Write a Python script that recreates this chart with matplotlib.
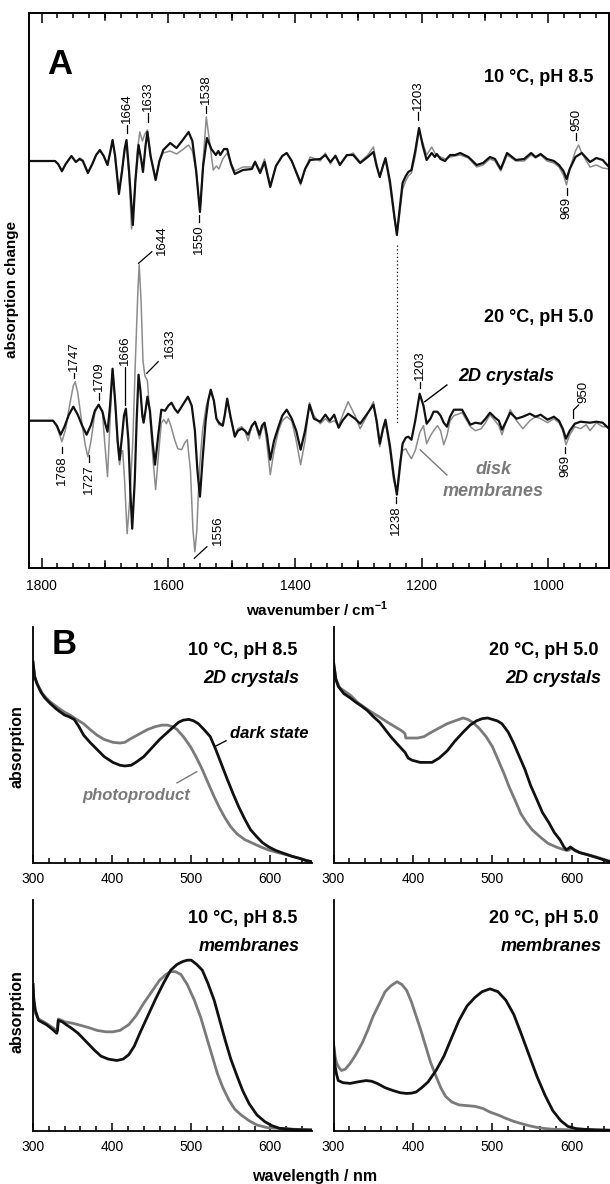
import matplotlib
matplotlib.use("Agg")
import matplotlib.pyplot as plt
from matplotlib.ticker import MultipleLocator

plt.rcParams["font.family"] = ["Liberation Sans", "DejaVu Sans"]
plt.rcParams["mathtext.fontset"] = "custom"
plt.rcParams["mathtext.bf"] = "Liberation Sans:bold"

# ---------------- panel A: FTIR difference spectra ----------------
# upper pair: 10 °C, pH 8.5 ; lower pair: 20 °C, pH 5.0  (arbitrary units)
# fmt: off
up_xtal_wn = [1820, 1790, 1779, 1774, 1768, 1762, 1753, 1746, 1740, 1735, 1727, 1720, 1714, 1708, 1702, 1696, 1692, 1688, 1684, 1678,
              1673, 1669, 1666, 1662, 1656, 1652, 1647, 1643, 1640, 1636, 1633, 1628, 1620, 1614, 1608, 1597, 1587, 1576, 1568, 1562,
              1556, 1550, 1545, 1539, 1532, 1525, 1521, 1518, 1512, 1507, 1501, 1495, 1482, 1468, 1463, 1455, 1448, 1439, 1430, 1420,
              1413, 1405, 1391, 1384, 1376, 1360, 1352, 1344, 1336, 1329, 1318, 1308, 1297, 1285, 1276, 1271, 1266, 1261, 1257, 1250,
              1243, 1239, 1235, 1230, 1225, 1221, 1216, 1210, 1204, 1198, 1192, 1184, 1179, 1176, 1170, 1163, 1155, 1147, 1139, 1126,
              1113, 1103, 1092, 1084, 1075, 1065, 1051, 1038, 1027, 1020, 1012, 1002, 991, 983, 976, 971, 966, 957, 947, 934, 924, 914, 904]
up_xtal = [0, 0, 0, -3, -10, -3, 5, -1, 2, 0, -12, -3, 6, 11, 5, -4, 8, 21, 5, -33,
           -10, 12, 21, -10, -64, -20, 16, 2, -11, 15, 29, 5, -19, 0, 11, 18, 13, 22, 29, 20,
           -10, -51, -5, 23, 12, 6, 10, 6, 12, 12, -3, -13, -9, -8, -1, -12, -1, -26, -5, 5,
           8, 0, -22, -8, 1, 2, 6, -1, 5, -4, 6, 6, -2, 4, 9, -5, -16, -5, 3, -20,
           -55, -74, -50, -22, -15, -11, -9, 10, 33, 15, 1, 8, 4, 7, 2, 0, 6, 6, 8, 4,
           -4, -2, 4, 2, -8, 8, 1, 2, 8, 4, 7, 2, 0, -4, -10, -18, -8, 4, 8, -1, 3, 1, -6]

up_disk_wn = [1820, 1790, 1779, 1774, 1768, 1762, 1753, 1746, 1740, 1735, 1727, 1720, 1714, 1708, 1702, 1696, 1692, 1688, 1684, 1678,
              1673, 1669, 1666, 1662, 1658, 1653, 1649, 1645, 1641, 1637, 1633, 1628, 1620, 1614, 1608, 1597, 1587, 1576, 1568, 1562,
              1556, 1550, 1545, 1540, 1535, 1529, 1524, 1520, 1514, 1507, 1501, 1495, 1482, 1468, 1463, 1455, 1448, 1439, 1430, 1420,
              1413, 1405, 1391, 1384, 1376, 1360, 1352, 1344, 1336, 1329, 1318, 1308, 1297, 1285, 1276, 1271, 1266, 1261, 1257, 1250,
              1243, 1239, 1235, 1230, 1225, 1221, 1216, 1210, 1204, 1198, 1192, 1184, 1179, 1176, 1170, 1163, 1155, 1147, 1139, 1126,
              1113, 1103, 1092, 1084, 1075, 1065, 1051, 1038, 1027, 1020, 1012, 1002, 991, 983, 976, 971, 966, 957, 952, 947, 934, 924, 914, 904]
up_disk = [0, 0, 0, -3, -11, -3, 5, -1, 3, 1, -11, -3, 6, 10, 5, -4, 8, 20, 5, -30,
           -8, 10, 14, -15, -68, -30, 10, 29, 20, 27, 31, 5, -17, 0, 8, 10, 7, 12, 16, 10,
           -10, -50, 0, 44, 20, -9, -5, -8, 2, 8, -2, -10, -6, -6, 0, -10, 2, -24, -5, 5,
           8, 0, -24, -8, 4, 0, 8, -3, 6, -3, 5, 8, -1, 6, 14, -3, -16, -5, 1, -25,
           -58, -72, -55, -28, -20, -15, -12, 5, 30, 18, 6, 14, 8, 5, 4, 2, 4, 5, 6, 3,
           -6, -4, 2, 0, -10, 6, 0, 0, 6, 3, 6, 0, -2, -6, -14, -24, -8, 10, 16, 8, -6, -4, -7, -8]

lo_xtal_wn = [1820, 1790, 1782, 1776, 1770, 1764, 1757, 1750, 1743, 1736, 1729, 1722, 1716, 1710, 1704, 1700, 1696, 1692, 1688, 1684,
              1680, 1677, 1673, 1670, 1667, 1663, 1660, 1657, 1653, 1650, 1647, 1644, 1641, 1639, 1636, 1633, 1629, 1625, 1621, 1616,
              1611, 1605, 1600, 1595, 1590, 1585, 1577, 1569, 1563, 1558, 1554, 1550, 1546, 1541, 1537, 1533, 1528, 1524, 1520, 1514,
              1511, 1507, 1502, 1495, 1490, 1484, 1479, 1474, 1468, 1463, 1456, 1452, 1448, 1444, 1439, 1433, 1426, 1420, 1413, 1405,
              1398, 1391, 1384, 1377, 1370, 1360, 1352, 1345, 1338, 1331, 1325, 1316, 1305, 1297, 1288, 1276, 1271, 1266, 1261, 1257,
              1250, 1244, 1239, 1234, 1230, 1225, 1221, 1216, 1210, 1203, 1197, 1192, 1186, 1181, 1175, 1170, 1165, 1160, 1155, 1149,
              1136, 1123, 1115, 1106, 1099, 1092, 1084, 1078, 1073, 1066, 1060, 1050, 1040, 1029, 1020, 1012, 1001, 991, 983, 977,
              972, 966, 958, 949, 934, 924, 914, 904]
lo_xtal = [0, 0, 0, -5, -14, -6, 6, 14, 6, -5, -14, -4, 10, 16, 9, -2, -11, 15, 52, 20,
           -20, -39, -15, 5, 12, -20, -70, -108, -60, 0, 46, 30, 5, -2, 10, 24, 10, -20, -44, -15,
           11, 10, 15, 18, 12, 8, 16, 24, 15, -10, -50, -76, -40, 0, 20, 31, 20, 2, -2, -5,
           5, 22, 5, -16, -10, -8, -10, -14, -5, -1, -14, -5, -2, -15, -39, -20, -6, 5, 11, 2,
           -10, -29, -10, 16, 2, -1, 6, 0, 6, -7, 0, 7, 2, -3, 5, 16, 0, -23, -8, 1,
           -25, -55, -74, -45, -23, -17, -16, -19, 0, 27, 15, -3, 2, 9, 9, 5, -2, -6, 4, 11,
           11, -4, -2, -3, 2, 8, 3, 0, -9, 0, 8, 2, 4, 7, 4, 6, 1, 4, 0, -8,
           -18, -10, -3, -1, -2, -1, -2, -8]

lo_disk_wn = [1820, 1790, 1782, 1776, 1768, 1762, 1756, 1750, 1747, 1743, 1737, 1731, 1727, 1722, 1716, 1710, 1704, 1700, 1696, 1692,
              1688, 1684, 1680, 1677, 1674, 1672, 1669, 1665, 1661, 1656, 1652, 1648, 1646, 1643, 1640, 1637, 1633, 1629, 1624, 1620,
              1615, 1611, 1607, 1603, 1600, 1596, 1590, 1585, 1579, 1574, 1570, 1565, 1561, 1558, 1555, 1551, 1546, 1540, 1533, 1528,
              1524, 1520, 1514, 1511, 1507, 1502, 1495, 1490, 1484, 1479, 1474, 1468, 1463, 1456, 1452, 1448, 1444, 1439, 1433, 1426,
              1420, 1413, 1405, 1398, 1391, 1384, 1377, 1370, 1360, 1352, 1345, 1338, 1331, 1325, 1316, 1305, 1297, 1288, 1276, 1271,
              1266, 1261, 1257, 1250, 1244, 1239, 1234, 1230, 1225, 1221, 1216, 1210, 1203, 1197, 1192, 1186, 1181, 1175, 1170, 1165,
              1160, 1155, 1149, 1136, 1123, 1115, 1106, 1099, 1092, 1084, 1078, 1073, 1066, 1060, 1050, 1040, 1029, 1020, 1012, 1001,
              991, 983, 977, 972, 966, 958, 949, 940, 934, 924, 914, 904]
lo_disk = [0, 0, 0, -6, -21, -8, 15, 35, 39, 28, 0, -25, -36, -20, 8, 16, 8, -25, -56, 0,
           52, 20, -25, -44, -30, -30, -60, -113, -80, -20, 60, 130, 156, 120, 60, 45, 40, 5, -40, -69,
           -30, -2, 1, -3, 2, -5, -19, -28, -29, -22, -19, -50, -110, -131, -110, -50, -10, 15, 29, 20,
           2, -4, -5, 5, 22, 3, -14, -8, -6, -10, -20, -5, -2, -18, -8, -5, -25, -54, -30, -10,
           0, 4, 0, -20, -44, -20, 18, 5, -3, 2, -2, 0, -5, 5, 19, 5, -8, 3, 19, -3,
           -26, -10, -2, -30, -60, -70, -40, -30, -28, -33, -38, -30, -12, -5, -23, -15, -10, -5, -10, -24,
           -15, 0, 5, 8, -6, -10, -8, -2, 6, 0, -5, -14, 0, 11, 0, -8, 0, 4, 2, -2,
           2, -2, -10, -24, -14, -6, -8, -4, -10, -2, -6, -6]
# fmt: on

# peak labels: (wavenumber, line start, line end, text, pointing up?)
peak_marks = [
    (1666, 287.7, 295.7, "1664", True), (1632, 298.7, 307.7, "1633", True),
    (1540, 307.7, 314.7, "1538", True), (1206, 300.7, 308.7, "1203", True),
    (956, 280.7, 287.7, "950", True), (1551, 205.7, 198.7, "1550", False),
    (971, 232.7, 225.7, "969", False),
    (1768, -26.3, -32.3, "1768", False), (1749, 42.7, 47.7, "1747", True),
    (1726, -34.3, -41.3, "1727", False), (1709, 20.7, 27.7, "1709", True),
    (1669, 15.7, 53.7, "1666", True), (1240, -76.3, -82.3, "1238", False),
    (1202, 32.7, 38.7, "1203", True), (973, -26.3, -32.3, "969", False),
]
# slanted leader labels: (x0, y0, x1, y1, text x, text y, text)
slant_marks = [
    (1647, 157.4, 1626, 169.0, 1610, 165.7, "1644"),
    (1634, 47.4, 1616, 59.0, 1597, 62.7, "1633"),
    (1559, -137.6, 1539, -126.0, 1521, -124.3, "1556"),
]

# ---------------- panel B: UV/vis spectra ----------------
# fmt: off
b_tl_dark_nm = [300, 302, 305, 310, 315, 322, 330, 340, 345, 352, 358, 364, 372, 381, 390, 401, 410, 416, 424, 430, 440, 450, 460, 470,
                478, 484, 490, 497, 503, 509, 516, 524, 531, 538, 545, 553, 560, 568, 575, 583, 590, 598, 607, 617, 627, 637, 645, 652]
b_tl_dark = [1.40, 1.30, 1.25, 1.19, 1.15, 1.11, 1.07, 1.03, 1.02, 1.00, 0.95, 0.89, 0.84, 0.79, 0.74, 0.70, 0.68, 0.675, 0.68, 0.70, 0.74, 0.80, 0.86, 0.91,
             0.95, 0.98, 0.995, 1.00, 0.99, 0.97, 0.93, 0.88, 0.79, 0.69, 0.59, 0.48, 0.39, 0.30, 0.23, 0.18, 0.14, 0.11, 0.085, 0.065, 0.045, 0.03, 0.015, 0.007]
b_tl_photo_nm = [300, 302, 305, 312, 320, 332, 340, 347, 355, 364, 372, 381, 390, 401, 410, 416, 425, 435, 445, 455, 463, 470, 476,
                 482, 490, 499, 506, 514, 521, 529, 536, 543, 550, 558, 568, 578, 588, 598, 610, 622, 637, 652]
b_tl_photo = [1.40, 1.30, 1.25, 1.18, 1.13, 1.08, 1.05, 1.03, 1.00, 0.97, 0.93, 0.89, 0.86, 0.84, 0.835, 0.84, 0.87, 0.90, 0.93, 0.95, 0.96, 0.96, 0.95,
              0.93, 0.88, 0.81, 0.74, 0.65, 0.56, 0.46, 0.38, 0.31, 0.25, 0.20, 0.16, 0.135, 0.11, 0.088, 0.07, 0.053, 0.03, 0.007]

b_tr_dark_nm = [300, 303, 306, 313, 321, 328, 336, 343, 350, 358, 365, 372, 380, 385, 390, 394, 399, 409, 417, 424, 433, 443, 453, 463, 472,
                480, 487, 494, 500, 506, 512, 520, 527, 534, 541, 548, 556, 563, 571, 578, 585, 590, 593, 596, 598, 603, 610, 620, 629, 640, 650]
b_tr_dark = [1.40, 1.28, 1.23, 1.18, 1.15, 1.12, 1.09, 1.06, 1.02, 0.98, 0.93, 0.88, 0.83, 0.80, 0.77, 0.73, 0.715, 0.70, 0.70, 0.70, 0.73, 0.78, 0.85, 0.91, 0.96,
             0.99, 1.005, 1.01, 1.00, 0.99, 0.97, 0.91, 0.83, 0.74, 0.65, 0.54, 0.44, 0.35, 0.28, 0.21, 0.16, 0.11, 0.09, 0.10, 0.11, 0.09, 0.07, 0.055, 0.04, 0.02, 0.005]
b_tr_photo_nm = [300, 303, 308, 321, 330, 340, 348, 357, 368, 380, 386, 390, 391, 399, 406, 414, 423, 433, 443, 453, 463, 469, 475,
                 483, 492, 500, 507, 514, 521, 529, 536, 543, 550, 560, 570, 580, 590, 595, 600, 605, 614, 624, 637, 650]
b_tr_photo = [1.40, 1.28, 1.22, 1.17, 1.12, 1.08, 1.05, 1.02, 0.98, 0.94, 0.92, 0.90, 0.87, 0.87, 0.87, 0.88, 0.91, 0.94, 0.97, 0.99, 1.01, 1.00, 0.98,
              0.94, 0.88, 0.81, 0.72, 0.63, 0.53, 0.43, 0.34, 0.28, 0.23, 0.18, 0.135, 0.11, 0.09, 0.085, 0.10, 0.08, 0.065, 0.05, 0.03, 0.005]

b_bl_dark_nm = [300, 301, 303, 307, 312, 317, 324, 330, 331, 332, 337, 342, 350, 357, 364, 371, 378, 386, 395, 406, 414, 421, 428, 435, 445,
                455, 465, 474, 482, 489, 495, 500, 507, 514, 521, 529, 536, 543, 550, 558, 565, 573, 583, 593, 602, 612, 630, 652]
b_bl_dark = [1.02, 0.92, 0.84, 0.77, 0.755, 0.74, 0.71, 0.68, 0.70, 0.77, 0.76, 0.74, 0.71, 0.68, 0.64, 0.60, 0.56, 0.52, 0.50, 0.49, 0.50, 0.53, 0.59, 0.68, 0.80,
             0.92, 1.03, 1.12, 1.16, 1.18, 1.19, 1.19, 1.16, 1.12, 1.03, 0.91, 0.77, 0.63, 0.50, 0.38, 0.28, 0.19, 0.11, 0.063, 0.035, 0.016, 0.008, 0.005]
b_bl_photo_nm = [300, 301, 303, 307, 315, 322, 330, 331, 332, 340, 350, 357, 370, 381, 392, 401, 410, 421, 430, 440, 450, 460, 468,
                 474, 480, 487, 495, 504, 512, 519, 526, 533, 540, 548, 555, 563, 573, 583, 597, 612, 630, 652]
b_bl_photo = [1.02, 0.90, 0.82, 0.78, 0.755, 0.73, 0.70, 0.72, 0.78, 0.76, 0.75, 0.74, 0.72, 0.70, 0.69, 0.69, 0.70, 0.74, 0.80, 0.89, 0.97, 1.05, 1.09,
              1.11, 1.11, 1.09, 1.02, 0.91, 0.79, 0.66, 0.53, 0.40, 0.30, 0.21, 0.15, 0.11, 0.07, 0.04, 0.02, 0.016, 0.01, 0.005]

b_br_dark_nm = [300, 301, 302, 304, 306, 312, 321, 330, 341, 348, 355, 365, 375, 384, 392, 398, 404, 411, 419, 429, 439, 448, 458, 468,
                478, 487, 497, 507, 517, 527, 536, 546, 556, 566, 576, 586, 595, 605, 615, 630, 650]
b_br_dark = [0.61, 0.52, 0.45, 0.39, 0.35, 0.335, 0.33, 0.34, 0.35, 0.345, 0.33, 0.30, 0.28, 0.265, 0.26, 0.262, 0.27, 0.30, 0.34, 0.42, 0.52, 0.64, 0.77, 0.87,
             0.93, 0.97, 0.99, 0.97, 0.91, 0.81, 0.68, 0.53, 0.38, 0.25, 0.14, 0.07, 0.03, 0.015, 0.01, 0.006, 0.003]
b_br_photo_nm = [300, 302, 304, 307, 310, 315, 321, 328, 336, 343, 350, 358, 365, 372, 380, 386, 392, 398, 404, 410, 416, 422, 429, 435,
                 441, 449, 458, 468, 478, 488, 497, 507, 517, 527, 536, 546, 556, 566, 576, 600, 650]
b_br_photo = [0.61, 0.52, 0.47, 0.44, 0.42, 0.43, 0.47, 0.53, 0.61, 0.70, 0.80, 0.89, 0.97, 1.01, 1.04, 1.02, 0.98, 0.90, 0.80, 0.70, 0.59, 0.48, 0.38, 0.30,
              0.24, 0.20, 0.18, 0.175, 0.17, 0.155, 0.13, 0.11, 0.086, 0.065, 0.05, 0.035, 0.023, 0.015, 0.01, 0.006, 0.003]
# fmt: on

panel_b = [
    ("10 °C, pH 8.5", "2D crystals", b_tl_dark_nm, b_tl_dark, b_tl_photo_nm, b_tl_photo),
    ("20 °C, pH 5.0", "2D crystals", b_tr_dark_nm, b_tr_dark, b_tr_photo_nm, b_tr_photo),
    ("10 °C, pH 8.5", "membranes", b_bl_dark_nm, b_bl_dark, b_bl_photo_nm, b_bl_photo),
    ("20 °C, pH 5.0", "membranes", b_br_dark_nm, b_br_dark, b_br_photo_nm, b_br_photo),
]

W, H = 610, 1184
BLACK = "#111111"
GREY_A = "#8c8c8c"
GREY_B = "#7a7a7a"
upper_offset = 259.7


def px_axes(fig, left, top, right, bottom):
    """Add axes from pixel edges (origin top-left)."""
    return fig.add_axes([left / W, 1 - bottom / H, (right - left) / W, (bottom - top) / H])


fig = plt.figure(figsize=(W / 100, H / 100), dpi=100)

# ---- panel A ----
ax = px_axes(fig, 29, 13, 609, 568)
ax.plot(up_disk_wn, [v + upper_offset for v in up_disk], color=GREY_A, lw=1.1)
ax.plot(up_xtal_wn, [v + upper_offset for v in up_xtal], color=BLACK, lw=1.6)
ax.plot(lo_disk_wn, lo_disk, color=GREY_A, lw=1.1)
ax.plot(lo_xtal_wn, lo_xtal, color=BLACK, lw=1.6)
ax.set_xlim(1820, 904)
ax.set_ylim(-147.3, 407.7)
ax.set_yticks([])
ax.xaxis.set_major_locator(MultipleLocator(200))
ax.xaxis.set_minor_locator(MultipleLocator(25))
ax.tick_params(axis="x", which="both", direction="in", top=True, labelsize=10, pad=8, width=1.1)
ax.tick_params(axis="x", which="major", length=7)
ax.tick_params(axis="x", which="minor", length=3.5)
for s in ax.spines.values():
    s.set_linewidth(1.4)

# longer unlabelled ticks at the odd hundreds
for wn in range(1700, 900, -200):
    ax.plot([wn, wn], [-147.3, -140.3], color="k", lw=1.1, clip_on=False)
    ax.plot([wn, wn], [407.7, 400.7], color="k", lw=1.1, clip_on=False)

ax.plot([1239, 1239], [175.7, -4.3], color="k", lw=0.9, ls=(0, (1, 2)))

for wn, y0, y1, txt, up in peak_marks:
    ax.plot([wn, wn], [y0, y1], color="k", lw=0.9)
    ax.text(wn, y1 + (2 if up else -2), txt, rotation=90, ha="center",
            va="bottom" if up else "top", fontsize=9.5)
for x0, y0, x1, y1, tx, ty, txt in slant_marks:
    ax.plot([x0, x1], [y0, y1], color="k", lw=0.9)
    ax.text(tx, ty, txt, rotation=90, ha="center", va="bottom", fontsize=9.5)
# 950 bracket on lower trace
ax.plot([960, 960, 952], [2.4, 10.7, 15.7], color="k", lw=0.9)
ax.text(944, 17.7, "950", rotation=90, ha="center", va="bottom", fontsize=9.5)

ax.plot([1195, 1160], [19, 35.7], color="k", lw=1.0)
ax.text(1066, 44, "2D crystals", ha="center", va="center", fontsize=13,
        fontweight="bold", style="italic")
ax.plot([1202, 1160], [-29.3, -54.3], color=GREY_B, lw=1.0)
ax.text(1087, -49.3, "disk", ha="center", va="center", fontsize=13,
        fontweight="bold", style="italic", color=GREY_B)
ax.text(1087, -70.3, "membranes", ha="center", va="center", fontsize=13,
        fontweight="bold", style="italic", color=GREY_B)

ax.text(929, 342.7, "10 °C, pH 8.5", ha="right", va="center", fontsize=13, fontweight="bold")
ax.text(929, 103.4, "20 °C, pH 5.0", ha="right", va="center", fontsize=13, fontweight="bold")
ax.text(1771, 355.7, "A", ha="center", va="center", fontsize=25, fontweight="bold")

fig.text(12 / W, 1 - 290 / H, "absorption change", rotation=90, ha="center", va="center",
         fontsize=11, fontweight="bold")
fig.text(317 / W, 1 - 609 / H, r"wavenumber / cm$^{\mathbf{-1}}$", ha="center", va="center",
         fontsize=11, fontweight="bold")

# ---- panel B ----
b_boxes = [(33, 627, 311.5, 862.7), (333.5, 627, 610, 862.7),
           (33, 900, 311.5, 1130.7), (333.5, 900, 610, 1130.7)]
for i, (box, (cond, sample, dnm, dval, pnm, pval)) in enumerate(zip(b_boxes, panel_b)):
    bx = px_axes(fig, *box)
    bx.plot(pnm, pval, color=GREY_B, lw=2.0)
    bx.plot(dnm, dval, color=BLACK, lw=2.0)
    bx.set_xlim(300, 652 if i % 2 == 0 else 648)
    bx.set_ylim(0, (box[3] - box[1]) / 143.3)
    bx.set_yticks([])
    bx.spines["top"].set_visible(False)
    bx.spines["right"].set_visible(False)
    bx.spines["left"].set_linewidth(1.3)
    bx.spines["bottom"].set_linewidth(1.3)
    bx.xaxis.set_major_locator(MultipleLocator(100))
    bx.xaxis.set_minor_locator(MultipleLocator(20))
    bx.tick_params(axis="x", which="both", direction="in", labelsize=10, pad=7, width=1.1)
    bx.tick_params(axis="x", which="major", length=6)
    bx.tick_params(axis="x", which="minor", length=3.5)
    bx.text(634, 1.484, cond, ha="right", va="center", fontsize=13, fontweight="bold")
    bx.text(637, 1.285, sample, ha="right", va="center", fontsize=13,
            fontweight="bold", style="italic")
    if i == 0:
        bx.text(339, 1.52, "B", ha="center", va="center", fontsize=25, fontweight="bold")
        bx.plot([531, 544], [0.814, 0.851], color="k", lw=1.0)
        bx.text(598, 0.905, "dark state", ha="center", va="center", fontsize=12,
                fontweight="bold", style="italic")
        bx.plot([482, 507], [0.557, 0.635], color=GREY_B, lw=1.0)
        bx.text(430, 0.472, "photoproduct", ha="center", va="center", fontsize=12,
                fontweight="bold", style="italic", color=GREY_B)

fig.text(17.5 / W, 1 - 747 / H, "absorption", rotation=90, ha="center", va="center",
         fontsize=11.5, fontweight="bold")
fig.text(17.5 / W, 1 - 1012 / H, "absorption", rotation=90, ha="center", va="center",
         fontsize=11.5, fontweight="bold")
fig.text(315 / W, 1 - 1177 / H, "wavelength / nm", ha="center", va="center",
         fontsize=11.5, fontweight="bold")

fig.savefig("out.png", dpi=100)
